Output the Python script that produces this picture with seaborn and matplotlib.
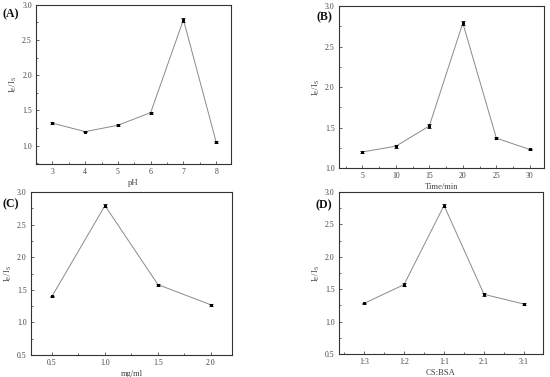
import numpy as np
import matplotlib
matplotlib.use("Agg")
import matplotlib.pyplot as plt
from matplotlib.ticker import MultipleLocator, AutoMinorLocator
import seaborn as sns

# data
ph = [3, 4, 5, 6, 7, 8]
ph_ratio = [1.32, 1.20, 1.29, 1.47, 2.79, 1.05]
ph_err = [0.015, 0.012, 0.012, 0.015, 0.03, 0.012]

time_min = [5, 10, 15, 20, 25, 30]
time_ratio = [1.20, 1.27, 1.52, 2.79, 1.37, 1.23]
time_err = [0.012, 0.02, 0.02, 0.03, 0.012, 0.012]

conc = [0.5, 1.0, 1.5, 2.0]
conc_ratio = [1.40, 2.79, 1.58, 1.27]
conc_err = [0.012, 0.025, 0.015, 0.012]

ratio_labels = ["1:3", "1:2", "1:1", "2:1", "3:1"]
ratio_vals = [1.28, 1.57, 2.79, 1.42, 1.27]
ratio_err = [0.012, 0.02, 0.025, 0.02, 0.015]

sns.set_style("ticks")
plt.rcParams["font.family"] = ["Liberation Serif", "DejaVu Serif"]
plt.rcParams["mathtext.fontset"] = "stix"
plt.rcParams["xtick.direction"] = "in"
plt.rcParams["ytick.direction"] = "in"
plt.rcParams["text.color"] = "#444444"
plt.rcParams["xtick.labelcolor"] = "#444444"
plt.rcParams["ytick.labelcolor"] = "#444444"
plt.rcParams["axes.labelcolor"] = "#444444"

fig = plt.figure(figsize=(5.5, 3.77), dpi=100)

line_col = "#8a8a8a"
fs = 5.6


def panel(rect, x, y, err, xlabel, ylim, xlim, tag, tagpos):
    ax = fig.add_axes(rect)
    sns.lineplot(x=x, y=y, ax=ax, color=line_col, linewidth=0.7,
                 marker="s", markersize=2, markerfacecolor="black",
                 markeredgecolor="black", errorbar=None)
    ax.errorbar(x, y, yerr=err, fmt="none", ecolor="black",
                elinewidth=0.6, capsize=1.2, capthick=0.6)
    ax.set_xlim(*xlim)
    ax.set_ylim(*ylim)
    ax.yaxis.set_major_locator(MultipleLocator(0.5))
    ax.yaxis.set_minor_locator(AutoMinorLocator(2))
    ax.xaxis.set_minor_locator(AutoMinorLocator(2))
    ax.tick_params(which="major", length=2, width=0.5, labelsize=fs, pad=3)
    ax.tick_params(which="minor", length=1.2, width=0.5)
    ax.set_xlabel(xlabel, fontsize=fs + 0.6, labelpad=2)
    ax.set_ylabel(r"$\mathregular{I_E/I_S}$", fontsize=fs + 0.6, labelpad=2)
    for s in ax.spines.values():
        s.set_linewidth(0.8)
        s.set_color("#333333")
    fig.text(tagpos[0], tagpos[1], tag, fontsize=8.5, fontweight="bold",
             color="#111111", ha="left", va="center")
    return ax


axA = panel([0.0655, 0.565, 0.355, 0.422], ph, ph_ratio, ph_err, "pH",
            (0.74, 3.0), (2.5, 8.46), "(A)", (0.004, 0.962))
axA.xaxis.set_major_locator(MultipleLocator(1))
axA.xaxis.set_minor_locator(AutoMinorLocator(2))

axB = panel([0.616, 0.554, 0.373, 0.43], time_min, time_ratio, time_err, "Time/min",
            (1.0, 3.0), (1.5, 32.1), "(B)", (0.575, 0.955))
axB.xaxis.set_major_locator(MultipleLocator(5))
axB.xaxis.set_minor_locator(AutoMinorLocator(2))

axC = panel([0.056, 0.058, 0.366, 0.433], conc, conc_ratio, conc_err, "mg/ml",
            (0.5, 3.0), (0.3, 2.2), "(C)", (0.005, 0.458))
axC.xaxis.set_major_locator(MultipleLocator(0.5))
axC.xaxis.set_minor_locator(AutoMinorLocator(2))

pos = list(range(len(ratio_labels)))
axD = panel([0.616, 0.061, 0.371, 0.43], pos, ratio_vals, ratio_err, "CS:BSA",
            (0.5, 3.0), (-0.63, 4.47), "(D)", (0.574, 0.455))
axD.set_xticks(pos)
axD.set_xticklabels(ratio_labels)
axD.xaxis.set_minor_locator(AutoMinorLocator(2))

fig.savefig("out.png", dpi=100)
